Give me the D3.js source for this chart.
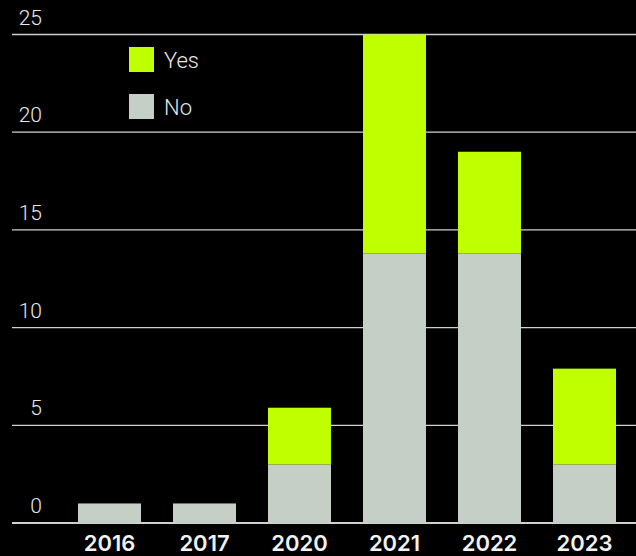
<!DOCTYPE html>
<html>
<head>
<meta charset="utf-8">
<script src="https://cdn.jsdelivr.net/npm/d3@7/dist/d3.min.js"></script>
<style>
  html, body { margin: 0; padding: 0; background: #000; }
  svg { display: block; }
</style>
</head>
<body>
<svg id="chart" width="636" height="556"></svg>
<script>
// Survey answers per year, stacked No (bottom) and Yes (top)
const years = ["2016", "2017", "2020", "2021", "2022", "2023"];
const noValues = [1, 1, 3, 13.8, 13.8, 3];
const yesValues = [0, 0, 2.9, 11.2, 5.2, 4.9];
const yTicks = [0, 5, 10, 15, 20, 25];
const seriesNames = ["Yes", "No"];
const seriesColors = { Yes: "#bfff00", No: "#c5cfc6" };

const svg = d3.select("#chart");
const W = 636, H = 556;

const rows = years.map((y, i) => ({ year: y, No: noValues[i], Yes: yesValues[i] }));
const stacked = d3.stack().keys(["No", "Yes"])(rows);

const x = d3.scaleBand()
  .domain(years)
  .range([62, 632])
  .paddingInner(0.337)
  .paddingOuter(0.1685);

const y = d3.scaleLinear().domain([0, 25]).range([523, 34.5]);

// Gridlines and tick labels
const grid = svg.append("g").attr("class", "grid");
grid.selectAll("line")
  .data(yTicks)
  .join("line")
  .attr("x1", 12).attr("x2", W)
  .attr("y1", d => y(d)).attr("y2", d => y(d))
  .attr("stroke", "#d0d0d0")
  .attr("stroke-width", d => d === 0 ? 2 : 1.3);

grid.selectAll("text")
  .data(yTicks)
  .join("text")
  .attr("x", 42)
  .attr("y", d => y(d) - 10)
  .attr("text-anchor", "end")
  .attr("fill", "#e8e8e8")
  .style("font-family", "Roboto, sans-serif")
  .style("font-size", "21px")
  .style("font-weight", 300)
  .text(d => d);

// Bars
svg.append("g")
  .selectAll("g")
  .data(stacked)
  .join("g")
  .attr("fill", d => seriesColors[d.key])
  .selectAll("rect")
  .data(d => d.filter(s => s[1] - s[0] > 0))
  .join("rect")
  .attr("x", d => x(d.data.year))
  .attr("width", x.bandwidth())
  .attr("y", d => y(d[1]))
  .attr("height", d => y(d[0]) - y(d[1]));

// Year labels
const xAxis = d3.axisBottom(x).tickSize(0).tickPadding(0);
const xg = svg.append("g").attr("transform", "translate(0,551)").call(xAxis);
xg.select(".domain").remove();
xg.selectAll("text")
  .attr("fill", "#f2f2f2")
  .attr("y", 0)
  .attr("dy", 0)
  .style("font-family", "Inter, sans-serif")
  .style("font-size", "22px")
  .style("font-weight", 600);

// Legend
const legend = svg.append("g").attr("transform", "translate(129,47)");
const item = legend.selectAll("g")
  .data(seriesNames)
  .join("g")
  .attr("transform", (d, i) => `translate(0,${i * 47})`);
item.append("rect")
  .attr("width", 25).attr("height", 25)
  .attr("fill", d => seriesColors[d]);
item.append("text")
  .attr("x", 35)
  .attr("y", 21)
  .attr("fill", "#e8e8e8")
  .style("font-family", "Roboto, sans-serif")
  .style("font-size", "22px")
  .style("font-weight", 300)
  .text(d => d);
</script>
</body>
</html>
